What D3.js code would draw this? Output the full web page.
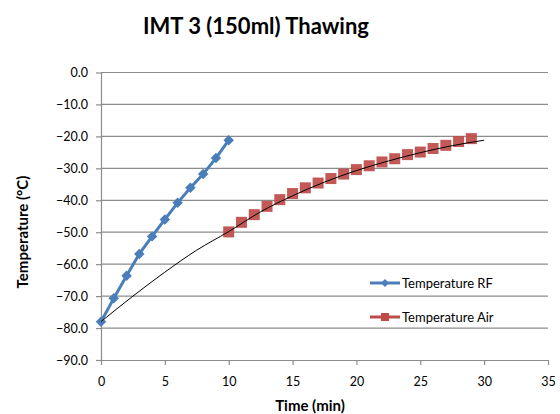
<!DOCTYPE html>
<html>
<head>
<meta charset="utf-8">
<script src="https://cdn.jsdelivr.net/npm/d3@7"></script>
<style>
  body { margin: 0; background: #fff; }
  text { font-family: Lato, "Open Sans", sans-serif; fill: #000; }
  .grid line { stroke: #8c8c8c; stroke-width: 1.2; }
  .axis path, .axis line { stroke: #8c8c8c; stroke-width: 1.2; }
  .axis text { font-size: 12.5px; }
</style>
</head>
<body>
<svg id="chart" width="560" height="414"></svg>
<script>
"use strict";

// data
const rfTime = [0, 1, 2, 3, 4, 5, 6, 7, 8, 9, 10];
const rfTemp = [-78.0, -70.7, -63.6, -56.8, -51.3, -46.0, -40.8, -36.1, -31.8, -26.8, -21.2];

const airTime = [10, 11, 12, 13, 14, 15, 16, 17, 18, 19, 20, 21, 22, 23, 24, 25, 26, 27, 28, 29];
const airTemp = [-49.9, -46.9, -44.5, -41.9, -39.8, -37.9, -36.1, -34.6, -33.2, -31.8,
                 -30.4, -29.2, -28.0, -27.0, -25.7, -24.9, -23.8, -22.8, -21.6, -20.7];

// black trend curve
const trendTime = [0, 2.5, 5, 7.5, 10, 12.5, 15, 17.5, 20, 22.5, 25, 27.5, 30];
const trendTemp = [-78.0, -70.0, -62.5, -55.6, -49.8, -43.6, -38.6, -34.3, -30.7, -27.7, -25.1, -22.9, -21.2];

const xTicks = [0, 5, 10, 15, 20, 25, 30, 35];
const yTicks = [0, -10, -20, -30, -40, -50, -60, -70, -80, -90];

const svg = d3.select("#chart");
const margin = { left: 101, right: 12, top: 72.5, bottom: 54 };
const W = 560, H = 414;

const x = d3.scaleLinear().domain([0, 35]).range([margin.left, W - margin.right]);
const y = d3.scaleLinear().domain([-90, 0]).range([H - margin.bottom, margin.top]);

// title
svg.append("text")
  .attr("x", 256).attr("y", 34)
  .attr("text-anchor", "middle")
  .style("font-size", "22px").style("font-weight", "bold")
  .text("IMT 3 (150ml) Thawing");

// horizontal gridlines
svg.append("g").attr("class", "grid")
  .selectAll("line").data(yTicks.filter(d => d !== -90)).enter().append("line")
  .attr("x1", x(0)).attr("x2", x(35))
  .attr("y1", d => y(d)).attr("y2", d => y(d));

// axes
svg.append("g").attr("class", "axis")
  .attr("transform", `translate(0,${y(-90)})`)
  .call(d3.axisBottom(x).tickValues(xTicks).tickSize(5).tickPadding(12).tickSizeOuter(0));

svg.append("g").attr("class", "axis")
  .attr("transform", `translate(${x(0)},0)`)
  .call(d3.axisLeft(y).tickValues(yTicks).tickFormat(d3.format(".1f")).tickSize(5).tickPadding(8).tickSizeOuter(0));

// axis titles
svg.append("text")
  .attr("x", 310).attr("y", 411)
  .attr("text-anchor", "middle")
  .style("font-size", "15px").style("font-weight", "bold")
  .text("Time (min)");

svg.append("text")
  .attr("transform", "translate(28,232) rotate(-90)")
  .attr("text-anchor", "middle")
  .style("font-size", "15px").style("font-weight", "bold")
  .text("Temperature (°C)");

const rf = rfTime.map((t, i) => ({ t: t, v: rfTemp[i] }));
const air = airTime.map((t, i) => ({ t: t, v: airTemp[i] }));
const trend = trendTime.map((t, i) => ({ t: t, v: trendTemp[i] }));

const line = d3.line().x(d => x(d.t)).y(d => y(d.v));

const blue = "#4a7ebb", red = "#be4b48";

// RF series
svg.append("path").datum(rf)
  .attr("fill", "none").attr("stroke", blue).attr("stroke-width", 3)
  .attr("d", line);
svg.selectAll(".rf").data(rf).enter().append("path")
  .attr("class", "rf")
  .attr("transform", d => `translate(${x(d.t)},${y(d.v)})`)
  .attr("d", d3.symbol(d3.symbolDiamond2, 70))
  .attr("fill", blue);

// Air series (markers only)
svg.selectAll(".air").data(air).enter().append("rect")
  .attr("class", "air")
  .attr("x", d => x(d.t) - 5.5).attr("y", d => y(d.v) - 5.5)
  .attr("width", 11).attr("height", 11)
  .attr("fill", red).attr("opacity", 0.92);

// trend curve
svg.append("path").datum(trend)
  .attr("fill", "none").attr("stroke", "#000").attr("stroke-width", 1)
  .attr("d", line.curve(d3.curveMonotoneX));

// legend
const legend = svg.append("g").attr("transform", "translate(370,283)");
legend.append("line").attr("x1", 0).attr("x2", 30).attr("y1", 0).attr("y2", 0)
  .attr("stroke", blue).attr("stroke-width", 3);
legend.append("path").attr("transform", "translate(15,0)")
  .attr("d", d3.symbol(d3.symbolDiamond2, 40)).attr("fill", blue);
legend.append("text").attr("x", 32).attr("y", 4.5).style("font-size", "13px").text("Temperature RF");

legend.append("line").attr("x1", 0).attr("x2", 30).attr("y1", 34).attr("y2", 34)
  .attr("stroke", red).attr("stroke-width", 3);
legend.append("rect").attr("x", 11).attr("y", 30).attr("width", 8).attr("height", 8).attr("fill", red);
legend.append("text").attr("x", 32).attr("y", 38.5).style("font-size", "13px").text("Temperature Air");
</script>
</body>
</html>
